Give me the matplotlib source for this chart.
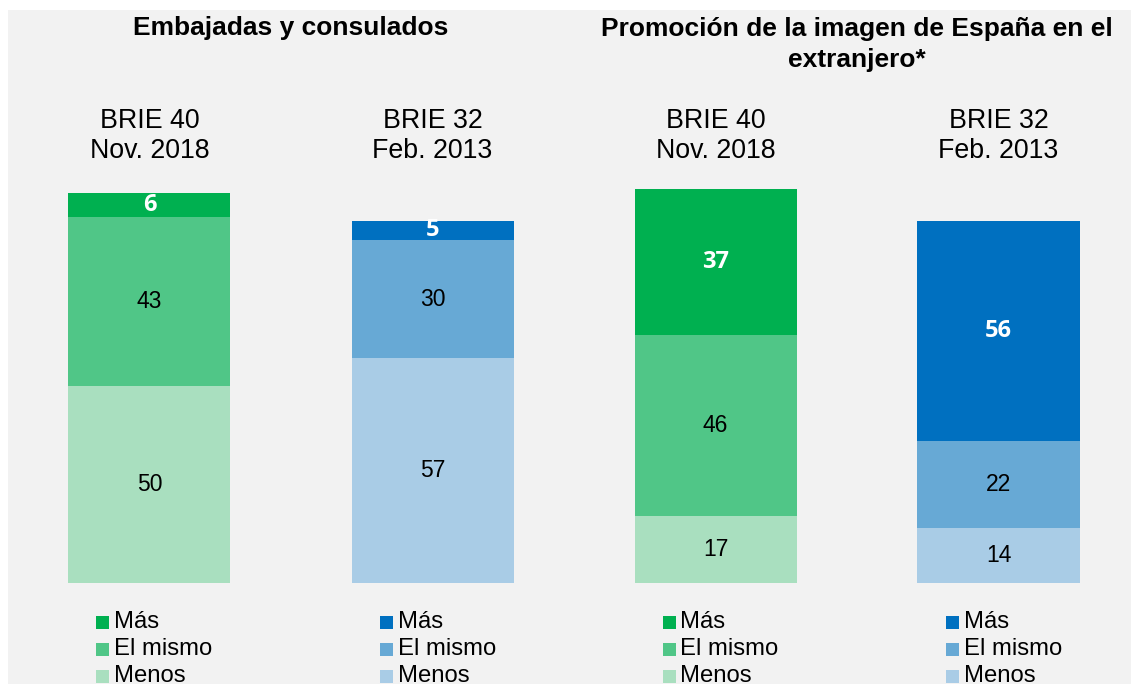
import matplotlib
matplotlib.use("Agg")
import matplotlib.pyplot as plt
from matplotlib.patches import Rectangle

# ---- data ----
panels = ["Embajadas y consulados", "Promoción de la imagen de España en el\nextranjero*"]
bar_labels = ["BRIE 40\nNov. 2018", "BRIE 32\nFeb. 2013", "BRIE 40\nNov. 2018", "BRIE 32\nFeb. 2013"]
series = ["Menos", "El mismo", "Más"]
menos = [50, 57, 17, 14]
mismo = [43, 30, 46, 22]
mas = [6, 5, 37, 56]
green = ["#A9DFBF", "#50C687", "#00B050"]
blue = ["#A9CCE6", "#67A9D5", "#0070C0"]
bar_colors = [green, blue, green, blue]

W, H = 1131, 684
fig = plt.figure(figsize=(W / 100, H / 100), dpi=100, facecolor="white")
bg = Rectangle((8 / W, -0.1), 1.1, 1.1 - 10 / H, transform=fig.transFigure,
               facecolor="#F2F2F2", edgecolor="none", zorder=-10)
fig.patches.append(bg)

ppu = 3.94  # pixels per unit
base_px = 583
ax = fig.add_axes([0, (H - base_px) / H, 1, 100 * ppu / H])
ax.set_zorder(5)
ax.set_facecolor("none")
spacing = 283.0
c0 = 149.5
ax.set_xlim(-c0 / spacing, (W - c0) / spacing)
ax.set_ylim(0, 100)
ax.axis("off")

width = 162 / spacing
xs = list(range(4))
font = "Liberation Sans"
for i in xs:
    vals = [menos[i], mismo[i], mas[i]]
    bottom = 0
    for j, v in enumerate(vals):
        ax.bar(i, v, width=width, bottom=bottom, color=bar_colors[i][j],
               edgecolor="none", zorder=2)
        if j == 2:
            ax.text(i, bottom + v / 2, str(v), ha="center", va="center",
                    color="white", fontsize=17, fontweight="bold",
                    family="Open Sans", zorder=3)
        else:
            ax.text(i, bottom + v / 2, str(v), ha="center", va="center",
                    color="black", fontsize=16.5, family=font, zorder=3)
        bottom += v
    ax.text(i, (base_px - 136.5) / ppu, bar_labels[i], ha="center", va="center",
            fontsize=19.3, family=font, linespacing=1.2, clip_on=False)
    # legend
    lx = i - width / 2 + 28 / spacing
    for k, (name, col) in enumerate(zip(series[::-1], bar_colors[i][::-1])):
        py = 622 + 27 * k
        yd = (base_px - py) / ppu
        ax.add_patch(Rectangle((lx, yd - 6.5 / ppu), 13 / spacing, 13 / ppu,
                               facecolor=col, edgecolor="none", clip_on=False))
        ax.text(lx + 18 / spacing, yd, name, ha="left", va="center",
                fontsize=17.2, family=font, clip_on=False)

# panel titles
ax.text(0.5, (base_px - 28) / ppu, panels[0], ha="center", va="center",
        fontsize=19, fontweight="bold", family=font, clip_on=False)
ax.text(2.5, (base_px - 44.5) / ppu, panels[1], ha="center", va="center",
        fontsize=19, fontweight="bold", family=font, linespacing=1.4, clip_on=False)

fig.savefig("out.png", dpi=100, facecolor=fig.get_facecolor())
